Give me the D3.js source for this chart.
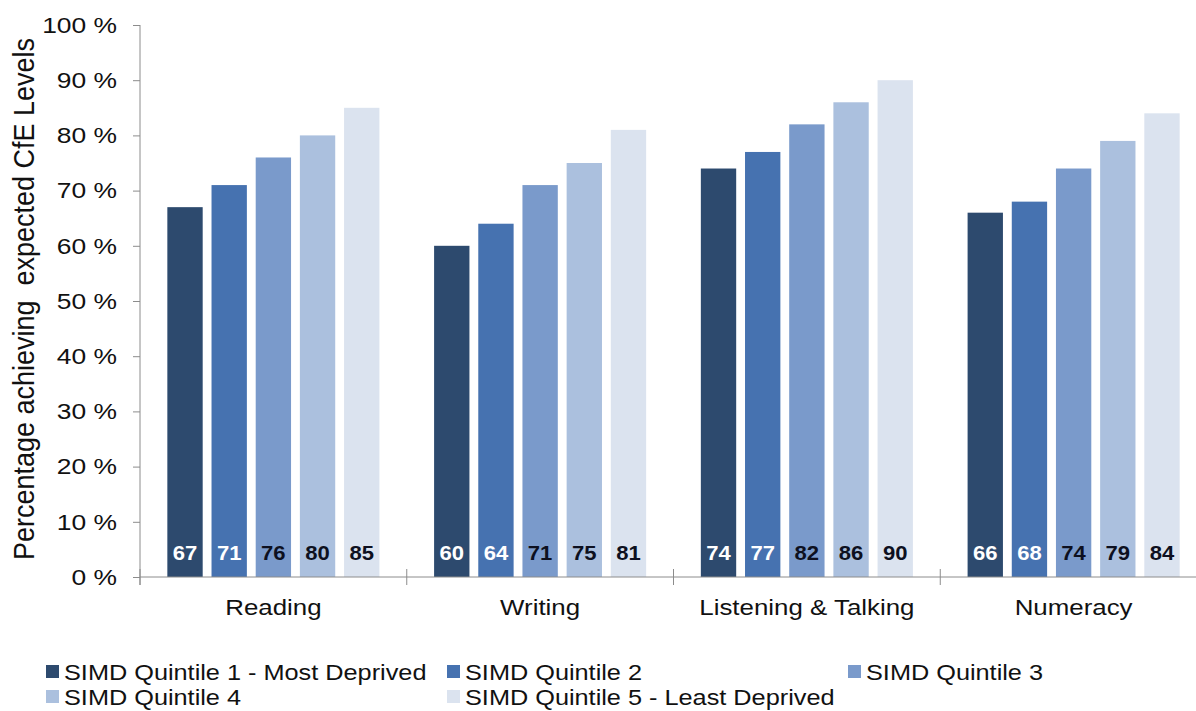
<!DOCTYPE html>
<html>
<head>
<meta charset="utf-8">
<script src="https://cdn.jsdelivr.net/npm/d3@7"></script>
<style>
  html, body { margin: 0; padding: 0; background: #ffffff; }
  svg { display: block; font-family: "Liberation Sans", Arial, sans-serif; }
</style>
</head>
<body>
<svg id="chart" width="1196" height="711"></svg>
<script>
// Curriculum areas along the x axis
const categories = ["Reading", "Writing", "Listening & Talking", "Numeracy"];

// SIMD quintile series (legend order)
const series = [
  "SIMD Quintile 1 - Most Deprived",
  "SIMD Quintile 2",
  "SIMD Quintile 3",
  "SIMD Quintile 4",
  "SIMD Quintile 5 - Least Deprived"
];

// Percentage achieving expected CfE levels, one array per quintile
const quintile1 = [67, 60, 74, 66];
const quintile2 = [71, 64, 77, 68];
const quintile3 = [76, 71, 82, 74];
const quintile4 = [80, 75, 86, 79];
const quintile5 = [85, 81, 90, 84];
const values = [quintile1, quintile2, quintile3, quintile4, quintile5];

const yTicks = [0, 10, 20, 30, 40, 50, 60, 70, 80, 90, 100];

const colors = ["#2d4a6e", "#4672b0", "#7a9acb", "#abc0de", "#dbe3ef"];
const labelColors = ["#ffffff", "#ffffff", "#0d1020", "#0d1020", "#0d1020"];

// Text in this chart is set slightly wide
const WIDE = 1.15;

const svg = d3.select("#chart");

const plot = { left: 140, right: 1207, top: 25, bottom: 577 };

const y = d3.scaleLinear().domain([0, 100]).range([plot.bottom, plot.top]);

const x0 = d3.scaleBand()
  .domain(categories)
  .range([plot.left, plot.right])
  .paddingInner(0.205)
  .paddingOuter(0.1025);

const x1 = d3.scaleBand()
  .domain(d3.range(series.length))
  .range([0, x0.bandwidth()])
  .paddingInner(0.2)
  .paddingOuter(0);

const axisColor = "#8c8c8c";

// Y axis: tick marks from the axis generator, labels set wide
const yAxis = svg.append("g")
  .attr("transform", `translate(${plot.left},0)`)
  .call(d3.axisLeft(y).tickValues(yTicks).tickFormat("").tickSize(7));
yAxis.select(".domain").remove();
yAxis.selectAll(".tick line").attr("stroke", axisColor);

svg.append("g").selectAll("text")
  .data(yTicks)
  .join("text")
  .attr("transform", d => `translate(${plot.left - 23},${y(d)}) scale(1.2,1)`)
  .attr("dy", "0.35em")
  .attr("text-anchor", "end")
  .attr("fill", "#111")
  .style("font-size", "22px")
  .text(d => d + " %");

svg.append("line")
  .attr("x1", plot.left).attr("x2", plot.left)
  .attr("y1", y(100)).attr("y2", plot.bottom + 8)
  .attr("stroke", axisColor);

// Bars
const groups = svg.append("g").selectAll("g")
  .data(categories)
  .join("g")
  .attr("transform", d => `translate(${x0(d)},0)`);

groups.selectAll("rect")
  .data((d, ci) => series.map((s, si) => ({ si, v: values[si][ci] })))
  .join("rect")
  .attr("x", d => x1(d.si))
  .attr("width", x1.bandwidth())
  .attr("y", d => y(d.v))
  .attr("height", d => y(0) - y(d.v))
  .attr("fill", d => colors[d.si]);

groups.selectAll("text.val")
  .data((d, ci) => series.map((s, si) => ({ si, v: values[si][ci] })))
  .join("text")
  .attr("class", "val")
  .attr("transform", d => `translate(${x1(d.si) + x1.bandwidth() / 2},${y(0) - 17}) scale(1.05,1)`)
  .attr("text-anchor", "middle")
  .attr("fill", d => labelColors[d.si])
  .style("font-size", "21px")
  .style("font-weight", "bold")
  .text(d => d.v);

// X axis baseline with crossing category dividers
svg.append("line")
  .attr("x1", plot.left).attr("x2", 1196)
  .attr("y1", y(0)).attr("y2", y(0))
  .attr("stroke", axisColor);
svg.append("g").selectAll("line")
  .data(d3.range(categories.length + 1))
  .join("line")
  .attr("x1", i => plot.left + i * x0.step())
  .attr("x2", i => plot.left + i * x0.step())
  .attr("y1", y(0) - 8)
  .attr("y2", y(0) + 8)
  .attr("stroke", axisColor);

svg.append("g").selectAll("text")
  .data(categories)
  .join("text")
  .attr("transform", d => `translate(${x0(d) + x0.bandwidth() / 2},615) scale(${WIDE},1)`)
  .attr("text-anchor", "middle")
  .attr("fill", "#111")
  .style("font-size", "22.5px")
  .text(d => d);

// Y axis title
svg.append("text")
  .attr("transform", `translate(34,${(33 + 565) / 2}) scale(1.08,1) rotate(-90)`)
  .attr("text-anchor", "middle")
  .attr("fill", "#111")
  .style("font-size", "27px")
  .style("white-space", "pre")
  .text("Percentage achieving  expected CfE Levels");

// Legend
const legendPos = [
  { x: 46, y: 680 }, { x: 447, y: 680 }, { x: 848, y: 680 },
  { x: 46, y: 705 }, { x: 447, y: 705 }
];
const legend = svg.append("g").selectAll("g")
  .data(series)
  .join("g")
  .attr("transform", (d, i) => `translate(${legendPos[i].x},${legendPos[i].y})`);
legend.append("rect")
  .attr("x", 0).attr("y", -15)
  .attr("width", 13).attr("height", 13)
  .attr("fill", (d, i) => colors[i]);
legend.append("text")
  .attr("transform", `translate(18,0) scale(${WIDE},1)`)
  .attr("fill", "#111")
  .style("font-size", "22px")
  .text(d => d);
</script>
</body>
</html>
